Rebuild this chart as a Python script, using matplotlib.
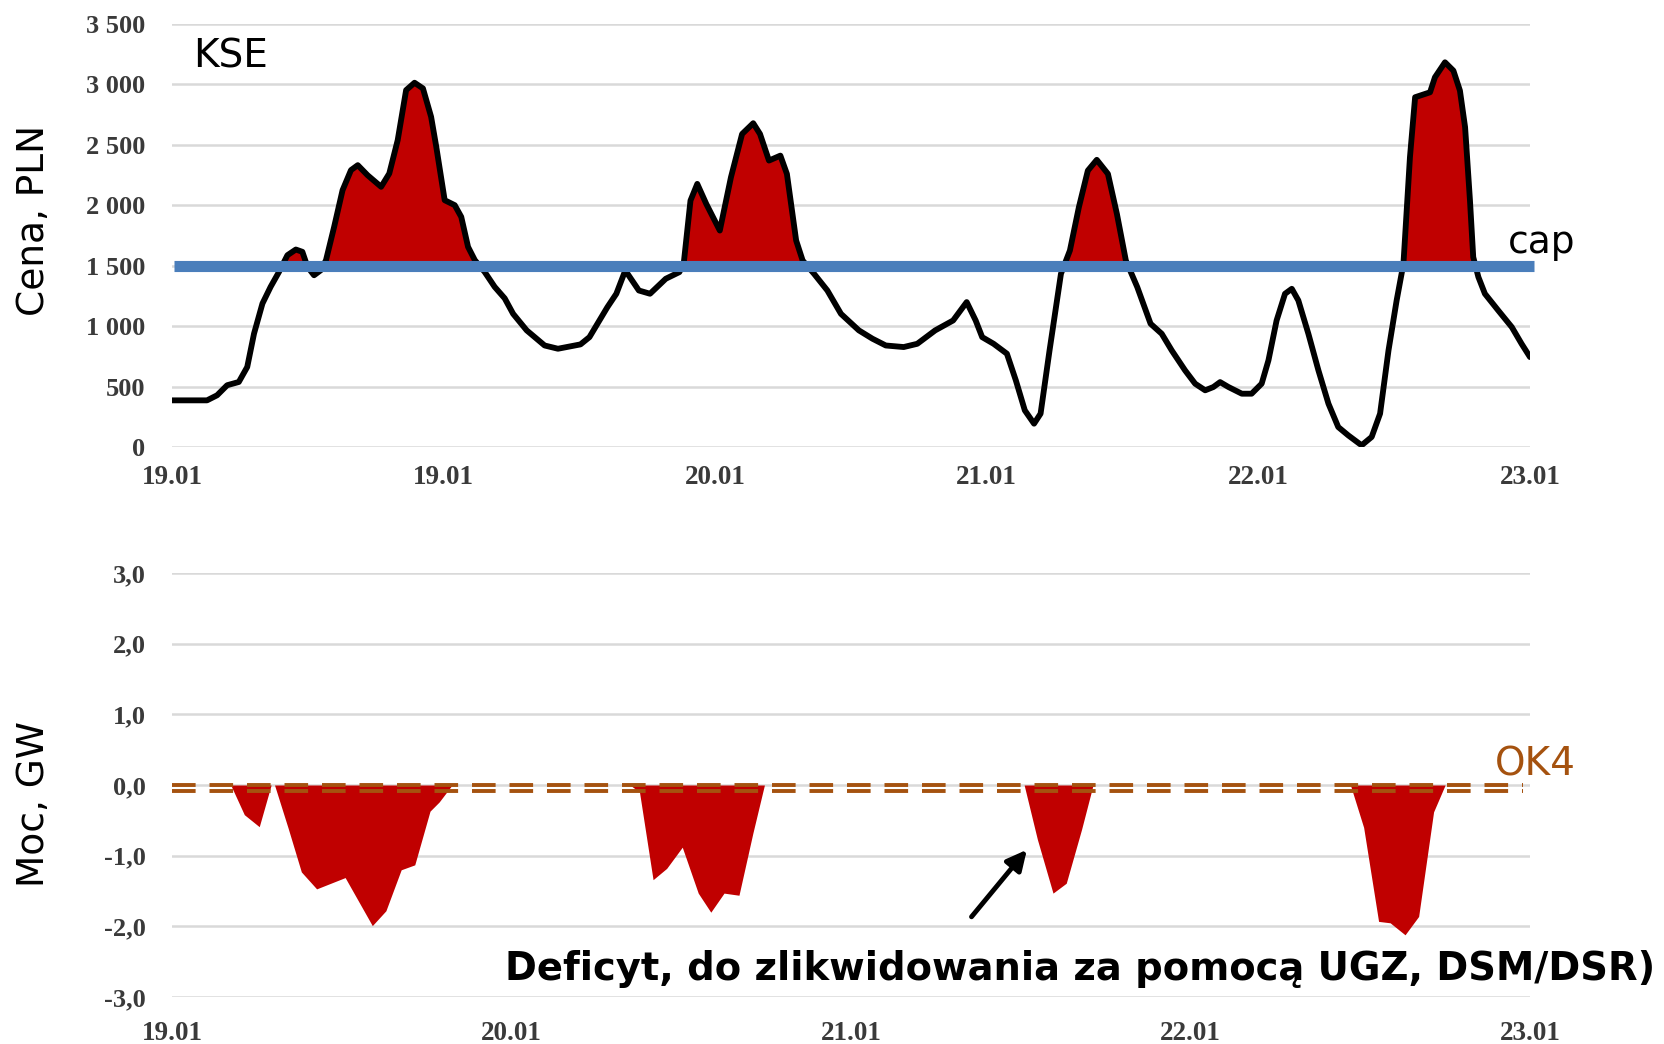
import matplotlib
matplotlib.use('Agg')
import matplotlib.pyplot as plt
import numpy as np

# ---------------- data ----------------
T_PRICE = [0.000, 0.055, 0.129, 0.166, 0.203, 0.246, 0.277, 0.302, 0.333, 0.363,
           0.394, 0.425, 0.456, 0.480, 0.499, 0.523, 0.548, 0.567, 0.597, 0.628,
           0.659, 0.684, 0.720, 0.770, 0.800, 0.831, 0.862, 0.893, 0.924, 0.954,
           0.973, 1.004, 1.041, 1.065, 1.090, 1.115, 1.151, 1.188, 1.225, 1.256,
           1.306, 1.372, 1.421, 1.504, 1.537, 1.603, 1.636, 1.669, 1.686, 1.719,
           1.760, 1.818, 1.868, 1.884, 1.909, 1.934, 1.967, 2.017, 2.058, 2.099,
           2.140, 2.165, 2.198, 2.240, 2.264, 2.298, 2.322, 2.364, 2.413, 2.463,
           2.529, 2.579, 2.628, 2.694, 2.744, 2.810, 2.876, 2.926, 2.959, 2.983,
           3.025, 3.074, 3.107, 3.140, 3.174, 3.198, 3.231, 3.273, 3.306, 3.339,
           3.372, 3.405, 3.446, 3.479, 3.512, 3.554, 3.603, 3.644, 3.681, 3.730,
           3.767, 3.804, 3.834, 3.859, 3.890, 3.939, 3.975, 4.012, 4.037, 4.067,
           4.098, 4.123, 4.147, 4.184, 4.221, 4.258, 4.294, 4.331, 4.380, 4.417,
           4.448, 4.479, 4.509, 4.534, 4.558, 4.577, 4.632, 4.650, 4.687, 4.718,
           4.742, 4.761, 4.779, 4.791, 4.810, 4.834, 4.883, 4.933, 4.969, 5.000]
PRICE = [386, 386, 386, 428, 511, 538, 662, 938, 1187, 1325,
         1449, 1587, 1634, 1615, 1490, 1421, 1463, 1546, 1822, 2125,
         2291, 2332, 2249, 2153, 2263, 2539, 2953, 3014, 2967, 2732,
         2484, 2042, 2001, 1904, 1656, 1546, 1449, 1325, 1230, 1102,
         965, 840, 813, 849, 909, 1157, 1268, 1461, 1405, 1295,
         1268, 1392, 1447, 1516, 2039, 2177, 2012, 1791, 2232, 2590,
         2679, 2590, 2370, 2411, 2260, 1709, 1543, 1433, 1295, 1102,
         965, 896, 840, 827, 854, 965, 1047, 1199, 1047, 909,
         854, 772, 551, 303, 193, 276, 799, 1433, 1626, 1984,
         2287, 2376, 2260, 1929, 1543, 1323, 1020, 937, 799, 634,
         524, 469, 496, 537, 496, 441, 441, 524, 717, 1047,
         1268, 1309, 1213, 937, 634, 358, 165, 96, 14, 83,
         276, 799, 1213, 1516, 2398, 2894, 2935, 3059, 3183, 3114,
         2949, 2646, 2039, 1571, 1406, 1268, 1130, 992, 854, 744]
CAP = 1500
PRICE_YTICKS = [0, 500, 1000, 1500, 2000, 2500, 3000, 3500]
PRICE_YTICKLABELS = ['0', '500', '1 000', '1 500', '2 000', '2 500', '3 000', '3 500']
PRICE_XTICKS = [0, 1, 2, 3, 4, 5]
PRICE_XTICKLABELS = ['19.01', '19.01', '20.01', '21.01', '22.01', '23.01']

U_DEF = [0.000, 0.173, 0.213, 0.257, 0.292, 0.302, 0.342, 0.381, 0.426, 0.510,
         0.590, 0.630, 0.675, 0.715, 0.760, 0.787, 0.825,
         1.349, 1.377, 1.417, 1.457, 1.503, 1.550, 1.587, 1.626, 1.670, 1.711, 1.745,
         2.510, 2.549, 2.595, 2.634, 2.679, 2.713,
         3.471, 3.510, 3.554, 3.588, 3.632, 3.672, 3.716, 3.750, 4.000]
DEFICIT = [0.0, 0.0, -0.42, -0.59, 0.0, 0.0, -0.61, -1.23, -1.47, -1.31,
           -1.99, -1.78, -1.20, -1.13, -0.37, -0.24, 0.0,
           0.0, -0.10, -1.34, -1.18, -0.88, -1.53, -1.80, -1.53, -1.56, -0.68, 0.0,
           0.0, -0.77, -1.53, -1.39, -0.63, 0.0,
           0.0, -0.60, -1.93, -1.95, -2.12, -1.86, -0.38, 0.0, 0.0]
OK4_LEVELS = [0.0, -0.09]
POWER_YTICKS = [-3, -2, -1, 0, 1, 2, 3]
POWER_YTICKLABELS = ['-3,0', '-2,0', '-1,0', '0,0', '1,0', '2,0', '3,0']
POWER_XTICKS = [0, 1, 2, 3, 4]
POWER_XTICKLABELS = ['19.01', '20.01', '21.01', '22.01', '23.01']

ARROW_TAIL = (2.355, -1.865)
ARROW_HEAD = (2.518, -0.917)
NOTE = 'Deficyt, do zlikwidowania za pomocą UGZ, DSM/DSR)'

assert len(T_PRICE) == len(PRICE)
assert len(U_DEF) == len(DEFICIT)

# ---------------- style ----------------
plt.rcParams['font.family'] = ['DejaVu Sans']
plt.rcParams['lines.scale_dashes'] = False

RED = '#C00000'
BLUE = '#4A7EBB'
BROWN = '#A5520F'
GRID = '#D9D9D9'
TICKC = '#3A3A3A'

W, H = 1664, 1044
fig = plt.figure(figsize=(W / 100, H / 100), dpi=100)


def fx(px):
    return px / W


def fy(py):
    return 1 - py / H


ax1 = fig.add_axes([fx(172), fy(447), fx(1530) - fx(172), fy(24) - fy(447)])
ax2 = fig.add_axes([fx(172), fy(997), fx(1530) - fx(172), fy(573) - fy(997)])


def style(ax, xpad):
    for s in ax.spines.values():
        s.set_visible(False)
    ax.set_axisbelow(True)
    ax.yaxis.grid(True, color=GRID, lw=1.8)
    ax.xaxis.grid(False)
    ax.tick_params(axis='both', length=0)
    ax.tick_params(axis='y', pad=19)
    ax.tick_params(axis='x', pad=xpad)
    for lab in ax.get_yticklabels():
        lab.set_fontfamily('Liberation Serif')
        lab.set_fontweight('bold')
        lab.set_fontsize(19)
        lab.set_color(TICKC)
    for lab in ax.get_xticklabels():
        lab.set_fontfamily('Liberation Serif')
        lab.set_fontweight('bold')
        lab.set_fontsize(19.5)
        lab.set_color(TICKC)


# ---- top panel ----
t = np.array(T_PRICE)
p = np.array(PRICE, dtype=float)
ax1.set_xlim(PRICE_XTICKS[0], PRICE_XTICKS[-1])
ax1.set_ylim(PRICE_YTICKS[0], PRICE_YTICKS[-1])
ax1.set_yticks(PRICE_YTICKS)
ax1.set_yticklabels(PRICE_YTICKLABELS)
ax1.set_xticks(PRICE_XTICKS)
ax1.set_xticklabels(PRICE_XTICKLABELS)
ax1.fill_between(t, p, CAP, where=p >= CAP, interpolate=True, color=RED, lw=0, zorder=2)
ax1.plot(t, p, color='black', lw=4.2, zorder=3, solid_joinstyle='round', solid_capstyle='round')
ax1.axhline(CAP, xmin=0.0015, xmax=1.003, color=BLUE, lw=8, zorder=4, clip_on=False,
            solid_capstyle='butt')
style(ax1, 13)

# ---- bottom panel ----
u = np.array(U_DEF)
d = np.array(DEFICIT)
ax2.set_xlim(POWER_XTICKS[0], POWER_XTICKS[-1])
ax2.set_ylim(POWER_YTICKS[0], POWER_YTICKS[-1])
ax2.set_yticks(POWER_YTICKS)
ax2.set_yticklabels(POWER_YTICKLABELS)
ax2.set_xticks(POWER_XTICKS)
ax2.set_xticklabels(POWER_XTICKLABELS)
ax2.fill_between(u, d, 0, color=RED, lw=0, zorder=2)
for lvl in OK4_LEVELS:
    ax2.axhline(lvl, xmin=0.0, xmax=0.995, color=BROWN, lw=2.8, dashes=(17, 10), zorder=4,
                dash_capstyle='butt')
ax2.annotate('', xy=ARROW_HEAD, xytext=ARROW_TAIL,
             arrowprops=dict(arrowstyle='-|>', color='black', lw=3.5, mutation_scale=30,
                             shrinkA=0, shrinkB=0), zorder=5)
style(ax2, 17)

# ---- texts ----
fig.text(fx(193), fy(68), 'KSE', fontsize=28, va='baseline', ha='left')
fig.text(fx(1508), fy(253), 'cap', fontsize=27, va='baseline', ha='left')
fig.text(fx(1495), fy(775), 'OK4', fontsize=28, va='baseline', ha='left', color=BROWN)
fig.text(fx(34), fy(220), 'Cena, PLN', fontsize=27, rotation=90, va='center', ha='center')
fig.text(fx(34), fy(804), 'Moc, GW', fontsize=27, rotation=90, va='center', ha='center')
note = fig.text(fx(505), fy(980), NOTE, fontsize=28, fontweight='bold', va='baseline', ha='left')
fig.canvas.draw()
bb = note.get_window_extent()
note.set_fontsize(note.get_fontsize() * 1150 / bb.width)

fig.savefig('out.png', dpi=100)
